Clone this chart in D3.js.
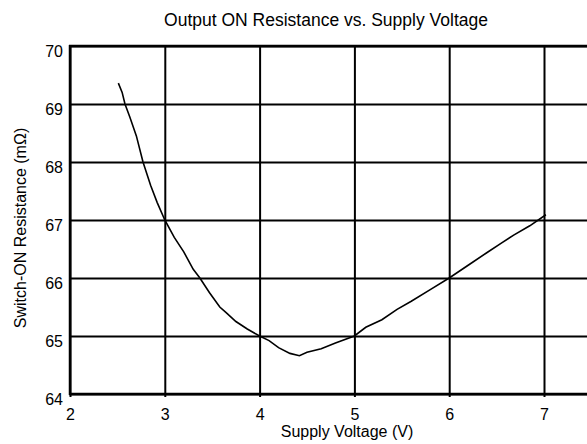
<!DOCTYPE html>
<html>
<head>
<meta charset="utf-8">
<script src="https://cdn.jsdelivr.net/npm/d3@7"></script>
<style>
body{margin:0;background:#fff;}
text{font-family:"Liberation Sans",Arial,sans-serif;fill:#000;}
</style>
</head>
<body>
<svg id="chart" width="587" height="444"></svg>
<script>
const voltage = [2.51,2.55,2.58,2.63,2.70,2.77,2.85,2.92,3.00,3.10,3.20,3.30,3.37,3.47,3.58,3.65,3.75,3.87,4.00,4.10,4.20,4.32,4.42,4.50,4.65,4.80,5.00,5.12,5.29,5.45,5.60,5.80,6.00,6.20,6.40,6.55,6.68,6.85,7.02];
const resistance = [69.36,69.2,69.0,68.78,68.45,68.0,67.6,67.3,67.0,66.7,66.45,66.15,66.0,65.75,65.5,65.4,65.25,65.12,65.0,64.92,64.8,64.70,64.66,64.72,64.78,64.88,65.0,65.15,65.28,65.46,65.6,65.8,66.0,66.22,66.44,66.6,66.74,66.9,67.09];
const xTicks = [2,3,4,5,6,7];
const yTicks = [64,65,66,67,68,69,70];
const title = "Output ON Resistance vs. Supply Voltage";
const xTitle = "Supply Voltage (V)";
const yTitle = "Switch-ON Resistance (mΩ)";

const svg = d3.select("#chart");
const x = d3.scaleLinear().domain([2,7.5]).range([70,591.4]);
const y = d3.scaleLinear().domain([64,70]).range([394,46]);
const fmt = d3.format("d");

// grid + axes
const gx = svg.append("g").attr("transform","translate(0,394)")
  .call(d3.axisBottom(x).tickValues(xTicks).tickFormat(fmt).tickSize(-348).tickSizeOuter(0).tickPadding(0));
gx.select(".domain").remove();
gx.selectAll(".tick line").attr("stroke","#000").attr("stroke-width",2).attr("y1",3);
gx.selectAll(".tick text").attr("font-size",16).attr("dy",null).attr("y",26);

const gy = svg.append("g").attr("transform","translate(70,0)")
  .call(d3.axisLeft(y).tickValues(yTicks).tickFormat(fmt).tickSize(-530).tickSizeOuter(0).tickPadding(0));
gy.select(".domain").remove();
gy.selectAll(".tick line").attr("stroke","#000").attr("stroke-width",2);
gy.selectAll(".tick text").attr("font-size",16).attr("dy",null).attr("x",-7).attr("y",10);

// frame
svg.append("line").attr("x1",70).attr("x2",70).attr("y1",45).attr("y2",395).attr("stroke","#000").attr("stroke-width",2.5);
svg.append("line").attr("x1",69).attr("x2",587).attr("y1",y(64)).attr("y2",y(64)).attr("stroke","#000").attr("stroke-width",2.5);
svg.append("line").attr("x1",69).attr("x2",587).attr("y1",y(70)).attr("y2",y(70)).attr("stroke","#000").attr("stroke-width",2.5);

// curve
const data = voltage.map((v,i)=>[v,resistance[i]]);
svg.append("path").datum(data)
  .attr("fill","none").attr("stroke","#000").attr("stroke-width",1.6)
  .attr("d", d3.line().x(d=>x(d[0])).y(d=>y(d[1])));

// titles
svg.append("text").attr("x",326).attr("y",26).attr("text-anchor","middle").attr("font-size",17.5).text(title);
svg.append("text").attr("x",347).attr("y",437).attr("text-anchor","middle").attr("font-size",16).text(xTitle);
svg.append("text").attr("transform","translate(26,228) rotate(-90)").attr("text-anchor","middle").attr("font-size",16).text(yTitle);
</script>
</body>
</html>
